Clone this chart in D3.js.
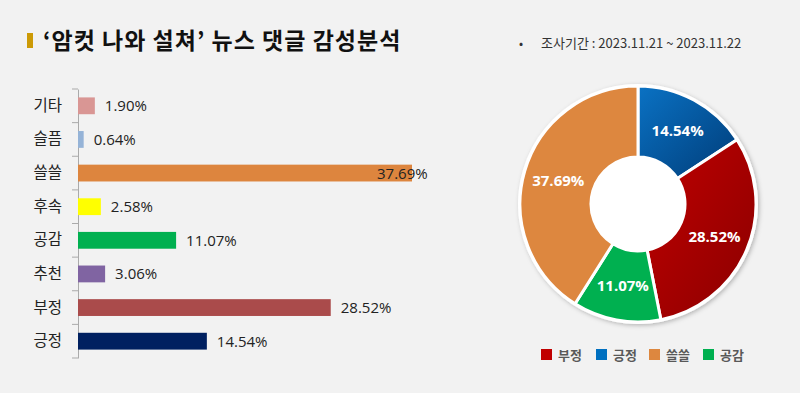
<!DOCTYPE html>
<html>
<head>
<meta charset="utf-8">
<script src="https://cdn.jsdelivr.net/npm/d3@7"></script>
<style>
  body { margin: 0; background: #f2f2f2; }
  svg { display: block; font-family: "Noto Sans CJK KR", "Noto Sans", sans-serif; }
</style>
</head>
<body>
<div id="root"></div>
<script>
// bar chart data (top to bottom)
var barCats = ["기타", "슬픔", "쓸쓸", "후속", "공감", "추천", "부정", "긍정"];
var barVals = [1.90, 0.64, 37.69, 2.58, 11.07, 3.06, 28.52, 14.54];
var barColors = ["#d99694", "#95b3d7", "#dd853e", "#ffff00", "#00b050", "#8064a2", "#aa4b4b", "#002060"];

// donut data (clockwise from 12 o'clock)
var pieCats = ["긍정", "부정", "공감", "쓸쓸"];
var pieVals = [14.54, 28.52, 11.07, 37.69];
var pieColors = [["#0a72c4", "#003c78"], ["#c00000", "#8a0000"], ["#00b050", "#00b050"], ["#dd873f", "#dd873f"]];

// legend order
var legendCats = ["부정", "긍정", "쓸쓸", "공감"];
var legendColors = ["#c00000", "#0070c0", "#dd873f", "#00b050"];

var w = 800, h = 393;
var svg = d3.select("#root").append("svg").attr("width", w).attr("height", h);
svg.append("rect").attr("width", w).attr("height", h).attr("fill", "#f2f2f2");

// title
svg.append("rect").attr("x", 27).attr("y", 33).attr("width", 6).attr("height", 15).attr("fill", "#cc9a06");
svg.append("text").attr("x", 43).attr("y", 49).attr("font-size", 23).attr("font-weight", "bold")
  .attr("letter-spacing", 1).attr("fill", "#111").text("‘암컷 나와 설쳐’ 뉴스 댓글 감성분석");

// period
svg.append("text").attr("x", 519).attr("y", 48).attr("font-size", 12).attr("fill", "#333").text("•");
svg.append("text").attr("x", 541).attr("y", 48).attr("font-size", 13).attr("fill", "#333")
  .text("조사기간 : 2023.11.21 ~ 2023.11.22");

// bars
var x = d3.scaleLinear().domain([0, 37.69]).range([78, 412]);
var y = d3.scaleBand().domain(barCats).range([89, 358]).paddingInner(0.5).paddingOuter(0.25);

var yAxis = d3.axisLeft(y).tickSize(0).tickPadding(16);
var gy = svg.append("g").attr("transform", "translate(78,0)").call(yAxis);
gy.select(".domain").attr("stroke", "#aaa");
gy.selectAll("text").attr("font-size", 15.5).attr("fill", "#222").attr("font-family", "Noto Sans CJK KR");
// boundary ticks between categories
var bounds = d3.range(barCats.length + 1).map(function(i) { return 89 + i * (269 / barCats.length); });
svg.selectAll(".btick").data(bounds).enter().append("line").attr("class", "btick")
  .attr("x1", 72).attr("x2", 78).attr("y1", function(d) { return d; }).attr("y2", function(d) { return d; })
  .attr("stroke", "#aaa");

svg.selectAll(".bar").data(barVals).enter().append("rect").attr("class", "bar")
  .attr("x", x(0)).attr("y", function(d, i) { return y(barCats[i]); })
  .attr("width", function(d) { return x(d) - x(0); }).attr("height", y.bandwidth())
  .attr("fill", function(d, i) { return barColors[i]; });

svg.selectAll(".blabel").data(barVals).enter().append("text").attr("class", "blabel")
  .attr("x", function(d) { return Math.min(x(d) + 10, 377); })
  .attr("y", function(d, i) { return y(barCats[i]) + y.bandwidth() / 2 + 5.5; })
  .attr("font-size", 15).attr("fill", "#222").attr("font-family", "Open Sans, Noto Sans")
  .text(function(d) { return d.toFixed(2) + "%"; });

// donut
var cx = 638, cy = 204, rOut = 118, rIn = 47;
var defs = svg.append("defs");
pieColors.forEach(function(c, i) {
  var g = defs.append("linearGradient").attr("id", "pg" + i).attr("x1", "0%").attr("y1", "0%").attr("x2", "100%").attr("y2", "100%");
  g.append("stop").attr("offset", "0%").attr("stop-color", c[0]);
  g.append("stop").attr("offset", "100%").attr("stop-color", c[1]);
});
var shadow = defs.append("filter").attr("id", "sh").attr("x", "-10%").attr("y", "-10%").attr("width", "130%").attr("height", "130%");
shadow.append("feDropShadow").attr("dx", 1.5).attr("dy", 1.5).attr("stdDeviation", 2).attr("flood-color", "#000").attr("flood-opacity", 0.25);

var pie = d3.pie().sort(null).value(function(d) { return d; });
var arc = d3.arc().innerRadius(rIn).outerRadius(rOut);
var labelArc = d3.arc().innerRadius(83).outerRadius(83);
var gp = svg.append("g").attr("transform", "translate(" + cx + "," + cy + ")");
gp.append("circle").attr("r", rOut + 2).attr("fill", "#fff").attr("filter", "url(#sh)");
gp.selectAll("path").data(pie(pieVals)).enter().append("path")
  .attr("d", arc).attr("fill", function(d, i) { return "url(#pg" + i + ")"; })
  .attr("stroke", "#fff").attr("stroke-width", 3).attr("stroke-linejoin", "round");
gp.selectAll(".plabel").data(pie(pieVals)).enter().append("text").attr("class", "plabel")
  .attr("transform", function(d) { return "translate(" + labelArc.centroid(d) + ")"; })
  .attr("text-anchor", "middle").attr("dy", "0.35em")
  .attr("font-size", 15).attr("font-weight", "bold").attr("fill", "#fff").attr("font-family", "Open Sans, Noto Sans")
  .text(function(d) { return d.data.toFixed(2) + "%"; });

// legend
var lx = [541, 596, 649, 703];
var lg = svg.selectAll(".leg").data(legendCats).enter().append("g").attr("class", "leg")
  .attr("transform", function(d, i) { return "translate(" + lx[i] + ",349)"; });
lg.append("rect").attr("width", 11).attr("height", 11).attr("fill", function(d, i) { return legendColors[i]; });
lg.append("text").attr("x", 17).attr("y", 10.5).attr("font-size", 13).attr("font-weight", "bold")
  .attr("fill", "#595959").text(function(d) { return d; });
</script>
</body>
</html>
